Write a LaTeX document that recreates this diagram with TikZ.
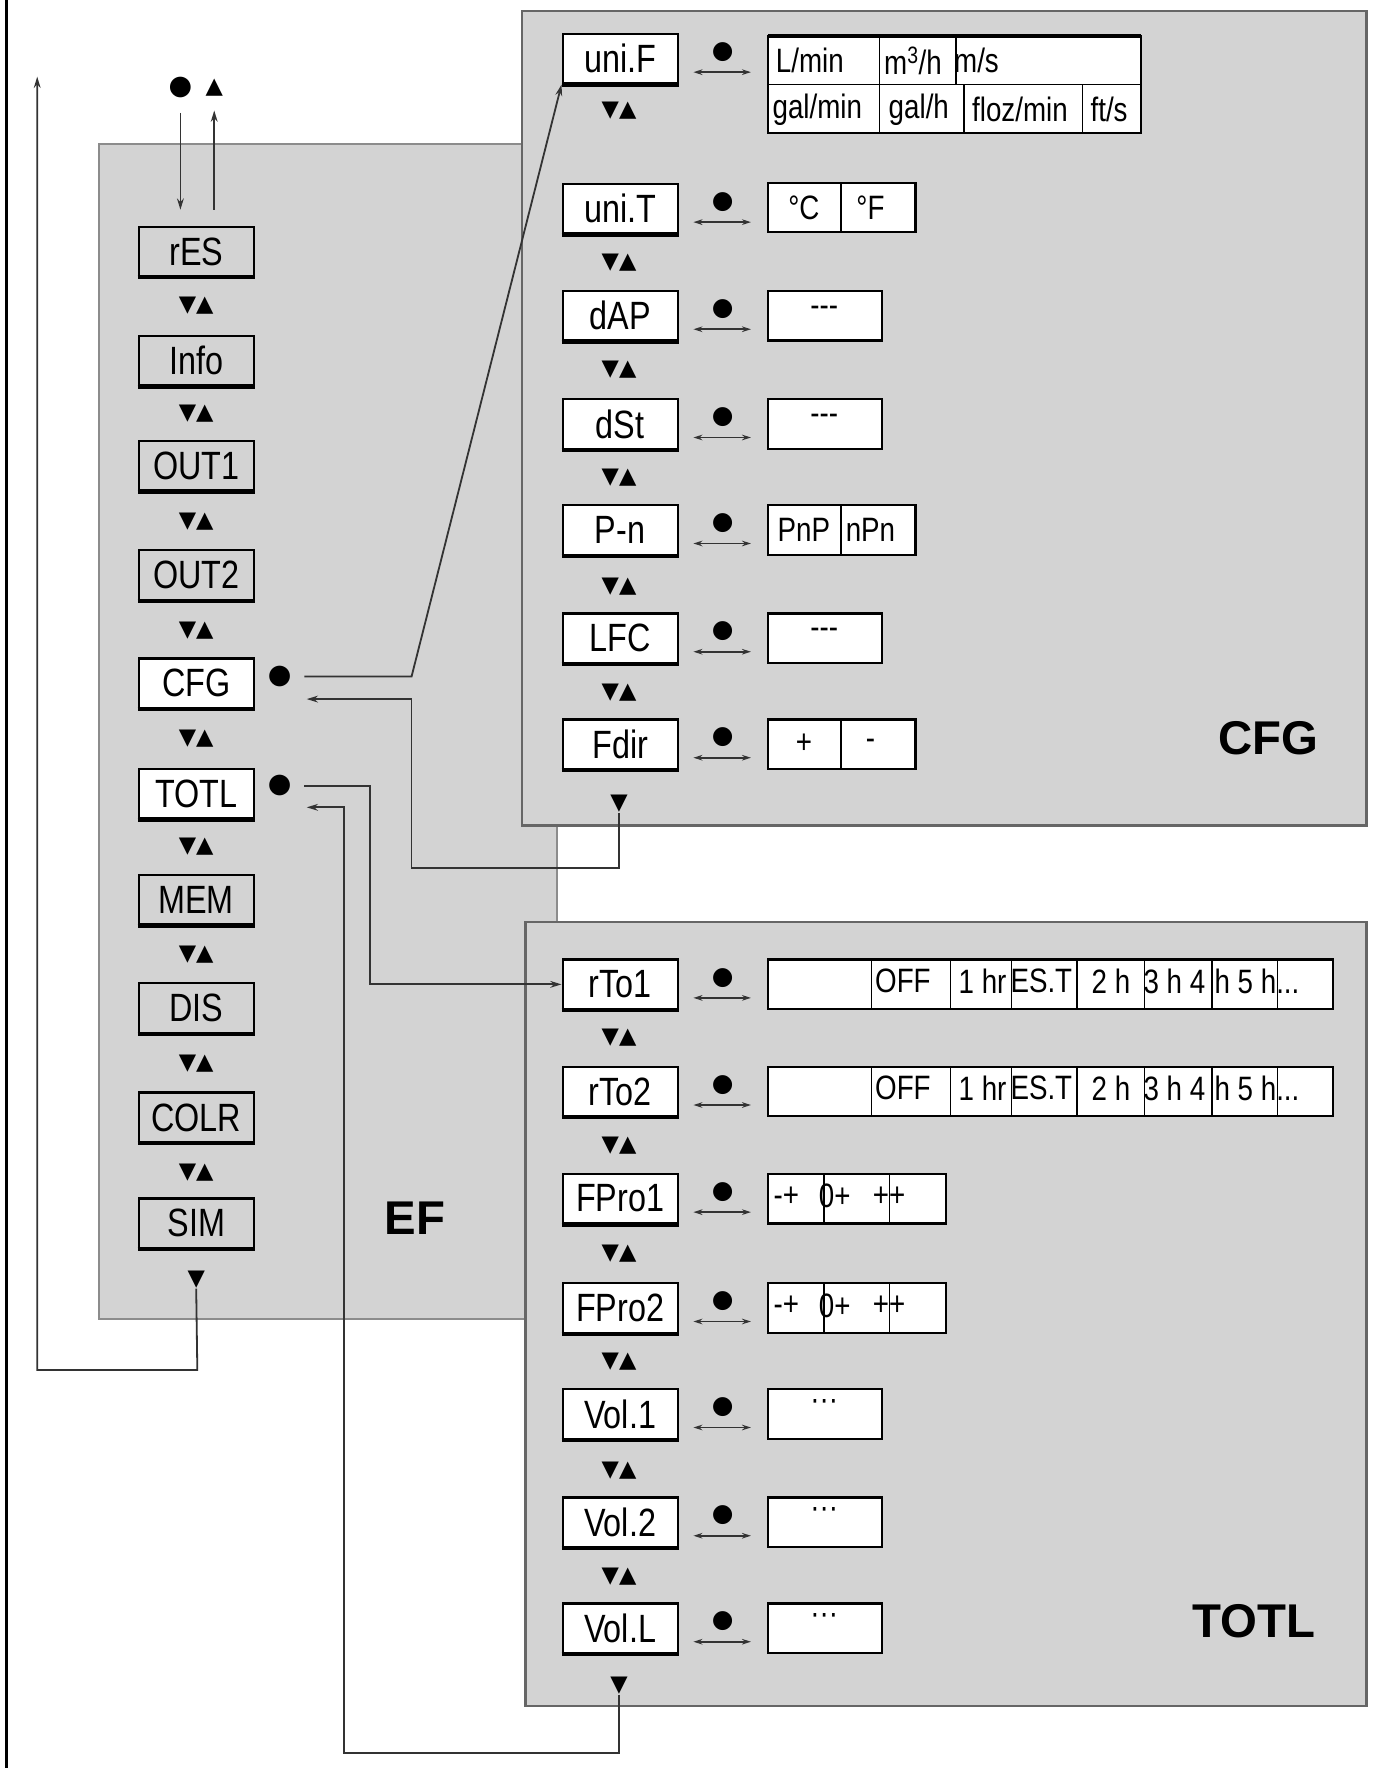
\documentclass[tikz,border=0pt]{standalone}
\usepackage{fontspec}
\setmainfont{Liberation Sans}
\newfontfamily\narrow[FakeStretch=0.82]{Liberation Sans}
\newfontfamily\dejavu{DejaVu Sans}
\usetikzlibrary{arrows.meta}
\definecolor{panel}{HTML}{D3D3D3}
\begin{document}
\begin{tikzpicture}[x=1pt,y=-1pt,
  panelbox/.style={fill=panel,draw=black!60,line width=2pt},
  item/.style={draw=black,line width=2pt,minimum width=102pt,minimum height=44pt,inner sep=0pt,font=\narrow\fontsize{35}{35}\selectfont},
  grayitem/.style={item,fill=panel},
  whiteitem/.style={item,fill=white},
  ud/.style={font=\dejavu\fontsize{20}{20}\selectfont,inner sep=0pt},
  val/.style={font=\narrow\fontsize{30}{30}\selectfont,inner sep=0pt},
  cell/.style={draw=black,line width=2pt,fill=white},
  conn/.style={line width=1.6pt,draw=black!80},
  tip/.style={-{Stealth[length=10pt,width=6pt]}},
  big/.style={font=\bfseries\fontsize{42}{42}\selectfont}]
\useasboundingbox (0,0) rectangle (1220,1568);
\fill[white] (0,0) rectangle (1220,1568);
\draw[line width=3pt] (6,0) -- (6,1568);
% panels
\draw[fill=panel,draw=black!45,line width=1.5pt] (88,128) rectangle (494,1170);
\draw[panelbox] (463,10) rectangle (1212,732);
\draw[panelbox] (466,818) rectangle (1212,1513);
\node[big] (lEF) at (368,1080) {EF};
\node[big] (lCFG) at (1125,655) {CFG};
\node[big] (lTOTL) at (1112,1438) {TOTL};
% EF column
\foreach \n/\t/\y/\s in {rES/rES/223/grayitem,Info/Info/320/grayitem,OUTa/OUT1/413/grayitem,OUTb/OUT2/510/grayitem,CFG/CFG/606/whiteitem,TOTL/TOTL/704/whiteitem,MEM/MEM/798/grayitem,DIS/DIS/894/grayitem,COLR/COLR/991/grayitem,SIM/SIM/1085/grayitem}{
  \node[\s] (\n) at (174,\y) {\t};
  \draw[line width=3.5pt] (\n.south west) -- (\n.south east);
}
\foreach \y [count=\i] in {271,367,463,559,655,751,847,943,1040}{\node[ud] (efud\i) at (174,\y) {▼▲};}
\node[ud] (efend) at (174,1135) {▼};
% top entry
\node[ud,font=\dejavu\fontsize{24}{24}\selectfont] (topdot) at (160,78) {●};
\node[ud] (topup) at (190,78) {▲};
\coordinate (tin) at (160,100); \coordinate (tinE) at (160,186);
\coordinate (tout) at (190,186); \coordinate (toutE) at (190,98);
\draw[conn,tip] (tin) -- (tinE);
\draw[conn,tip] (tout) -- (toutE);
% return from SIM
\coordinate (ret1) at (175,1215); \coordinate (ret2) at (33,1215); \coordinate (ret3) at (33,68);
\draw[conn,tip] (efend.south) -- (ret1) -- (ret2) -- (ret3);
% CFG column
\foreach \n/\t/\y in {uniF/uni.F/52,uniT/uni.T/185,dAP/dAP/280,dSt/dSt/376,Pn/P-n/470,LFC/LFC/566,Fdir/Fdir/660}{
  \node[whiteitem] (\n) at (550,\y) {\t};
  \draw[line width=3.5pt] (\n.south west) -- (\n.south east);
  \node[ud,font=\dejavu\fontsize{22}{22}\selectfont] (\n dot) at (641,\y-6) {●};
  \coordinate (\n a) at (615,\y+12); \coordinate (\n b) at (666,\y+12);
  \draw[conn,{Stealth[length=8pt,width=5pt]}-{Stealth[length=8pt,width=5pt]}] (\n a) -- (\n b);
}
\foreach \y [count=\i] in {98,233,328,424,520,614}{\node[ud] (cud\i) at (549,\y) {▼▲};}
\node[ud] (cend) at (549,713) {▼};
% TOTL column
\foreach \n/\t/\y in {rToa/rTo1/873,rTob/rTo2/968,FProa/FPro1/1063,FProb/FPro2/1160,Vola/Vol.1/1254,Volb/Vol.2/1350,VolL/Vol.L/1444}{
  \node[whiteitem] (\n) at (550,\y) {\t};
  \draw[line width=3.5pt] (\n.south west) -- (\n.south east);
  \node[ud,font=\dejavu\fontsize{22}{22}\selectfont] (\n dot) at (641,\y-6) {●};
  \coordinate (\n a) at (615,\y+12); \coordinate (\n b) at (666,\y+12);
  \draw[conn,{Stealth[length=8pt,width=5pt]}-{Stealth[length=8pt,width=5pt]}] (\n a) -- (\n b);
}
\foreach \y [count=\i] in {920,1016,1112,1208,1304,1398}{\node[ud] (tud\i) at (549,\y) {▼▲};}
\node[ud] (tend) at (549,1495) {▼};
% CFG / TOTL dots in EF
\node[ud,font=\dejavu\fontsize{24}{24}\selectfont] (cfgdot) at (248,600) {●};
\node[ud,font=\dejavu\fontsize{24}{24}\selectfont] (totdot) at (248,697) {●};
\coordinate (c1) at (270,600); \coordinate (c2) at (365,600);
\draw[conn,tip] (c1) -- (c2) -- (uniF.south west);
\coordinate (c3) at (549,770); \coordinate (c4) at (365,770); \coordinate (c5) at (365,620); \coordinate (c6) at (272,620);
\draw[conn,tip] (cend.south) -- (c3) -- (c4) -- (c5) -- (c6);
\coordinate (t1) at (270,697); \coordinate (t2) at (328,697); \coordinate (t3) at (328,873);
\draw[conn,tip] (t1) -- (t2) -- (t3) -- (rToa.west);
\coordinate (t4) at (549,1555); \coordinate (t5) at (305,1555); \coordinate (t6) at (305,716); \coordinate (t7) at (272,716);
\draw[conn,tip] (tend.south) -- (t4) -- (t5) -- (t6) -- (t7);
% value boxes CFG
\draw[cell] (681,32) rectangle (1012,118);
\draw[line width=3.5pt] (681,32) -- (1012,32);
\draw[line width=1.5pt] (681,75) -- (1012,75) (780,32) -- (780,118) (848,32) -- (848,75) (855,75) -- (855,118) (960,75) -- (960,118);
\node[val,anchor=west] (vLmin) at (688,54) {L/min};
\node[val,anchor=west] (vm3) at (784,54) {m\textsuperscript{3}/h};
\node[val,anchor=west] (vms) at (846,54) {m/s};
\node[val,anchor=west] (vgm) at (685,97) {gal/min};
\node[val,anchor=west] (vgh) at (788,97) {gal/h};
\node[val,anchor=west] (vfl) at (862,97) {floz/min};
\node[val,anchor=west] (vft) at (967,97) {ft/s};
\foreach \y/\a/\b/\n in {184/°C/°F/uT,470/PnP/nPn/pn,660/+/-/fd}{
  \draw[cell] (681,\y-22) rectangle (812,\y+22);
  \draw[line width=1.5pt] (746,\y-22) -- (746,\y+22);
  \node[val] (\n a) at (713,\y) {\a};
  \node[val] (\n b) at (772,\y) {\b};
}
\foreach \y/\n in {280/dap,376/dst,566/lfc}{
  \draw[cell] (681,\y-22) rectangle (782,\y+22);
  \node[val] (\n v) at (731,\y-4) {-{}-{}-};
}
% value boxes TOTL
\foreach \y/\n in {873/ra,968/rb}{
  \draw[cell] (681,\y-22) rectangle (1182,\y+22);
  \draw[line width=1.5pt] (773,\y-22) -- (773,\y+22) (843,\y-22) -- (843,\y+22) (897,\y-22) -- (897,\y+22) (955,\y-22) -- (955,\y+22) (1015,\y-22) -- (1015,\y+22) (1075,\y-22) -- (1075,\y+22) (1133,\y-22) -- (1133,\y+22);
  \node[val,anchor=west] (\n1) at (776,\y-3) {OFF};
  \node[val,anchor=west] (\n2) at (850,\y-3) {1 hr};
  \node[val,anchor=west] (\n3) at (896,\y-3) {ES.T};
  \node[val,anchor=west] (\n4) at (968,\y-3) {2 h};
  \node[val,anchor=west] (\n5) at (1014,\y-3) {3 h 4};
  \node[val,anchor=west] (\n6) at (1077,\y-3) {h 5 h...};
}
\foreach \y/\n in {1063/fa,1160/fb}{
  \draw[cell] (681,\y-22) rectangle (839,\y+22);
  \draw[line width=1.5pt] (731,\y-22) -- (731,\y+22) (789,\y-22) -- (789,\y+22);
  \node[val,anchor=west] (\n a) at (686,\y-2) {-+};
  \node[val,anchor=west] (\n b) at (726,\y-2) {0+};
  \node[val,anchor=west] (\n c) at (774,\y-2) {++};
}
\foreach \y/\n in {1254/va,1350/vb,1444/vl}{
  \draw[cell] (681,\y-22) rectangle (782,\y+22);
  \node[val] (\n v) at (731,\y-8) {···};
}
\end{tikzpicture}
\end{document}
